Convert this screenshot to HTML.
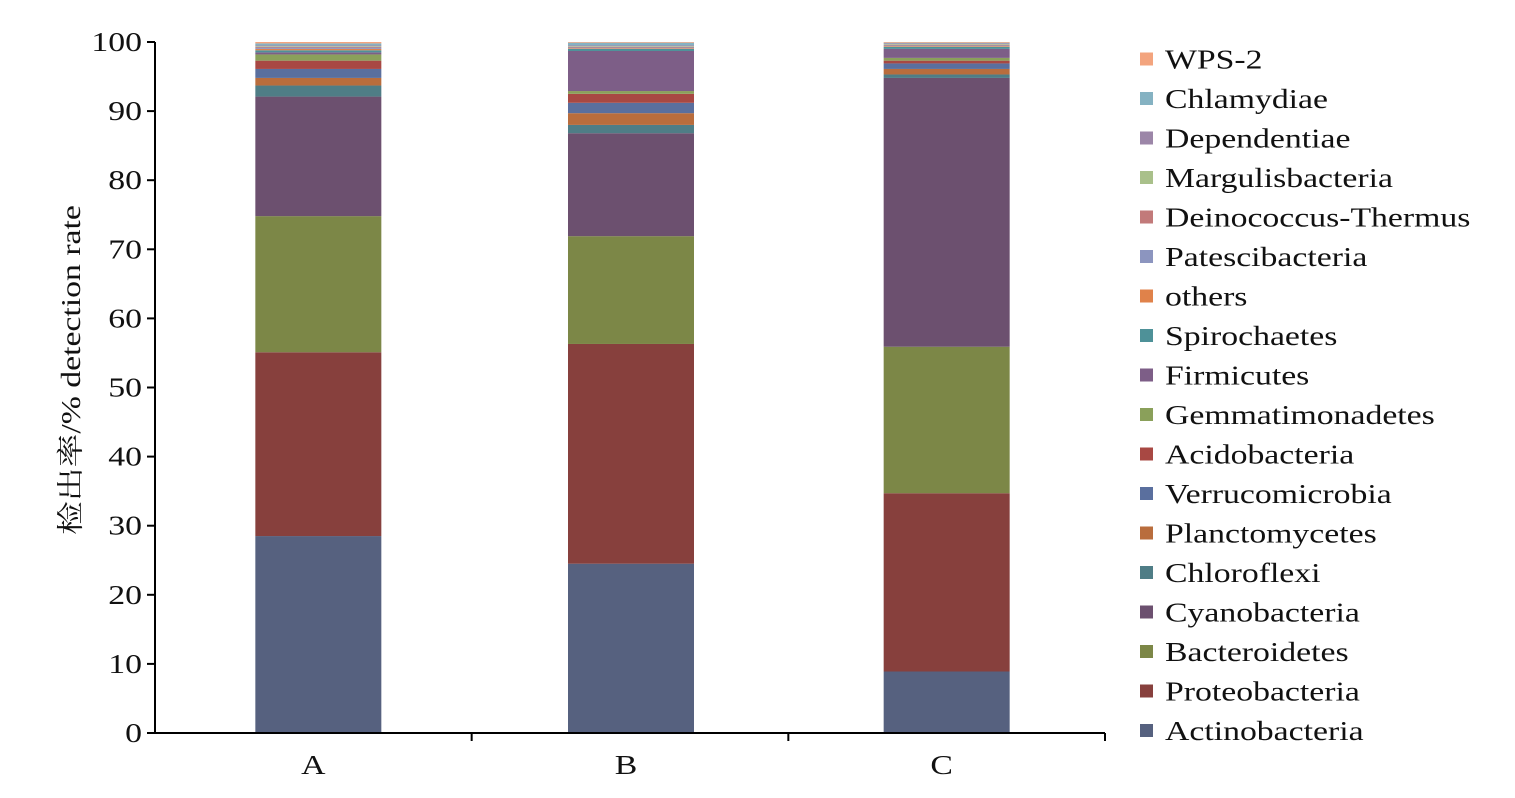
<!DOCTYPE html>
<html><head><meta charset="utf-8"><style>
body{margin:0;background:#fff}
svg text{font-family:"Liberation Serif","Noto Serif CJK SC",serif;fill:#111}
</style></head><body>
<svg id="chart" width="1515" height="793" xmlns="http://www.w3.org/2000/svg"></svg>
<script>
const categories=["A","B","C"];
const seriesNames=["Actinobacteria","Proteobacteria","Bacteroidetes","Cyanobacteria","Chloroflexi","Planctomycetes","Verrucomicrobia","Acidobacteria","Gemmatimonadetes","Firmicutes","Spirochaetes","others","Patescibacteria","Deinococcus-Thermus","Margulisbacteria","Dependentiae","Chlamydiae","WPS-2"];
const valuesA=[28.5,26.6,19.7,17.3,1.6,1.1,1.3,1.2,0.9,0.3,0.3,0.2,0.2,0.1,0.1,0.1,0.3,0.2];
const valuesB=[24.5,31.8,15.6,14.9,1.2,1.7,1.5,1.3,0.4,5.8,0.3,0.1,0.1,0.1,0.1,0.1,0.4,0.1];
const valuesC=[8.9,25.8,21.2,38.9,0.5,0.8,0.8,0.4,0.4,1.3,0.3,0.1,0.1,0.1,0.1,0.1,0.1,0.1];
const yTicks=[0,10,20,30,40,50,60,70,80,90,100];
const colors=["#56617f","#87403d","#7c8747","#6c506f","#4f7d86","#b96d3d","#5a6f9e","#a84843","#8aa05a","#7d5e87","#4e9198","#e0824a","#8c95bf","#c27a7a","#a9c08a","#9c86a8","#85b2c2","#f3a47e"];
const svg=document.getElementById('chart');const NS="http://www.w3.org/2000/svg";
function mk(t,a,p){const e=document.createElementNS(NS,t);for(const k in a)e.setAttribute(k,a[k]);(p||svg).appendChild(e);return e;}
const x0=155,x1=1105,yB=733,yT=42;
const y=v=>yB-(v/100)*(yB-yT);
const band=(x1-x0)/categories.length;
const xc=i=>x0+band*(i+0.5)+(i===0?5:i===1?1:0);
const barW=126;
const SX=1.25;
const all=[valuesA,valuesB,valuesC];
all.forEach((vals,i)=>{let acc=0;vals.forEach((v,s)=>{const r=mk('rect',{x:xc(i)-barW/2,y:y(acc+v),width:barW,height:Math.max(0,y(acc)-y(acc+v)),fill:colors[s]});

acc+=v;});});
let a=mk('line',{x1:x0,y1:yT,x2:x0,y2:yB,stroke:'#000','stroke-width':2});

a=mk('line',{x1:x0,y1:yB,x2:x1,y2:yB,stroke:'#000','stroke-width':2});

yTicks.forEach(t=>{mk('line',{x1:x0-8,y1:y(t),x2:x0,y2:y(t),stroke:'#000','stroke-width':2});
const tx=mk('text',{x:0,y:0,'text-anchor':'end','font-size':27,transform:`translate(${x0-13},${y(t)+9}) scale(${SX},1)`});tx.textContent=t;
});
for(let i=1;i<=categories.length;i++){mk('line',{x1:x0+band*i,y1:yB,x2:x0+band*i,y2:yB+8,stroke:'#000','stroke-width':2});}
categories.forEach((c,i)=>{const tx=mk('text',{x:0,y:0,'text-anchor':'middle','font-size':27,transform:`translate(${xc(i)-5},774) scale(${SX},1)`});tx.textContent=c;
});
const yt=mk('text',{x:0,y:0,'text-anchor':'middle','font-size':27,transform:`translate(80,370) rotate(-90) scale(${SX},1)`});
yt.textContent="检出率/% detection rate";

seriesNames.forEach((n,s)=>{const ry=731-s*39.5;
const g=mk('g',{});
mk('rect',{x:1140,y:ry-7,width:13,height:13,fill:colors[s]},g);
const t=mk('text',{x:0,y:0,'font-size':27,transform:`translate(1165,${ry+9}) scale(${SX},1)`},g);t.textContent=n;});
</script>
</body></html>
